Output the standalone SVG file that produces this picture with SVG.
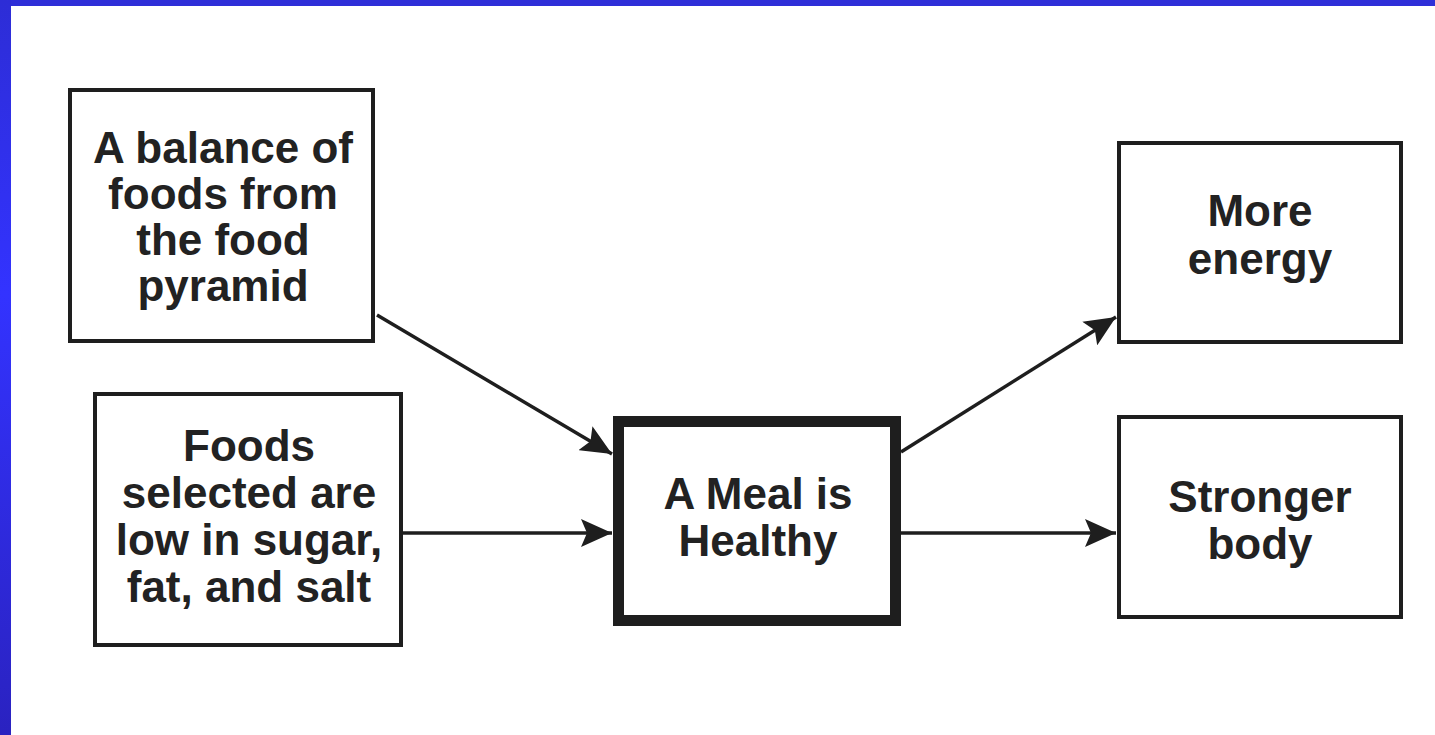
<svg xmlns="http://www.w3.org/2000/svg" width="1435" height="735" viewBox="0 0 1435 735">
<style>
.box{fill:#fff;stroke:#1e1e1e;stroke-width:4}
.main{fill:#fff;stroke:#1e1e1e;stroke-width:11}
.t{font-family:"Liberation Sans",Arial,sans-serif;font-weight:bold;font-size:44px;fill:#222;text-anchor:middle}
.c{stroke:#1e1e1e;stroke-width:3.5;fill:none;marker-end:url(#ah)}
</style>
<defs>
<linearGradient id="bl" x1="0" y1="0" x2="0" y2="1">
<stop offset="0" stop-color="#2d2dd6"/>
<stop offset="0.4" stop-color="#3333ff"/>
<stop offset="1" stop-color="#2a22c0"/>
</linearGradient>
<marker id="ah" markerUnits="userSpaceOnUse" markerWidth="32" markerHeight="28" refX="31" refY="14" orient="auto">
<path d="M0,0 L31,14 L0,28 L6,14 Z" fill="#1e1e1e"/>
</marker>
</defs>
<rect x="0" y="0" width="1435" height="735" fill="#fff"/>
<rect x="0" y="0" width="1435" height="6" fill="#2f2fd8"/>
<rect x="0" y="0" width="11" height="735" fill="url(#bl)"/>

<g id="connectors">
<line class="c" x1="377" y1="315" x2="612" y2="454"/>
<line class="c" x1="403" y1="533" x2="612" y2="533"/>
<line class="c" x1="901" y1="452" x2="1116" y2="317"/>
<line class="c" x1="901" y1="533" x2="1116" y2="533"/>
</g>

<g id="n1">
<rect class="box" x="70" y="90" width="303" height="251"/>
<text class="t" x="223" y="163">A balance of</text>
<text class="t" x="223" y="209">foods from</text>
<text class="t" x="223" y="255">the food</text>
<text class="t" x="223" y="301">pyramid</text>
</g>
<g id="n2">
<rect class="box" x="95" y="394" width="306" height="251"/>
<text class="t" x="249" y="461">Foods</text>
<text class="t" x="249" y="508">selected are</text>
<text class="t" x="249" y="555">low in sugar,</text>
<text class="t" x="249" y="602">fat, and salt</text>
</g>
<g id="n3">
<rect class="main" x="618.5" y="421.5" width="277" height="199"/>
<text class="t" x="758" y="509">A Meal is</text>
<text class="t" x="758" y="556">Healthy</text>
</g>
<g id="n4">
<rect class="box" x="1119" y="143" width="282" height="199"/>
<text class="t" x="1260" y="226">More</text>
<text class="t" x="1260" y="274">energy</text>
</g>
<g id="n5">
<rect class="box" x="1119" y="417" width="282" height="200"/>
<text class="t" x="1260" y="512">Stronger</text>
<text class="t" x="1260" y="559">body</text>
</g>
</svg>
